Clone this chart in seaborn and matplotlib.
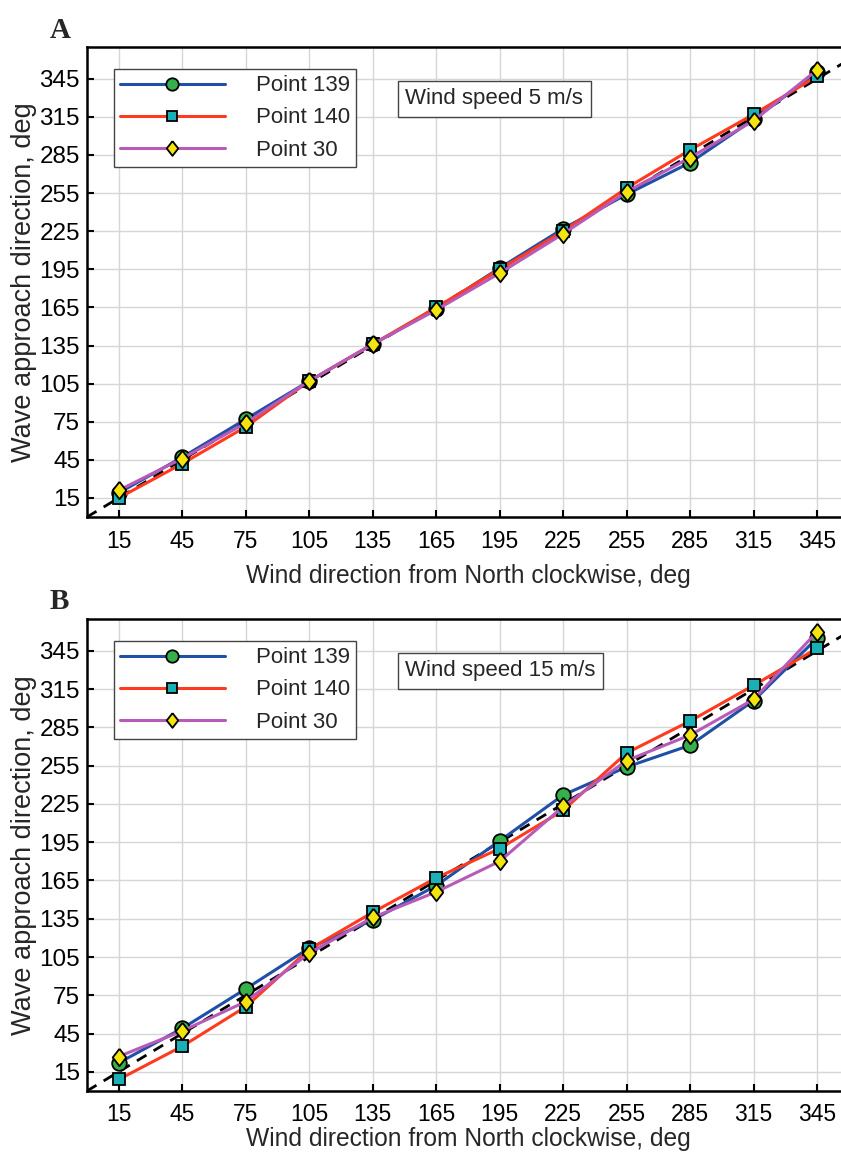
import matplotlib
matplotlib.use("Agg")
import matplotlib.pyplot as plt
import seaborn as sns
import pandas as pd

# wind direction (x) shared by both panels
wind_dir = [15, 45, 75, 105, 135, 165, 195, 225, 255, 285, 315, 345]

# panel A, wind speed 5 m/s
a_p139 = [19, 47, 77, 107, 136, 164, 196, 227, 254, 279, 313, 350]
a_p140 = [15, 42, 71, 107, 136, 165, 195, 225, 259, 289, 317, 347]
a_p30 = [21, 46, 74, 107, 136, 163, 192, 223, 256, 283, 312, 352]

# panel B, wind speed 15 m/s
b_p139 = [22, 49, 80, 112, 134, 161, 196, 232, 254, 271, 306, 355]
b_p140 = [9, 35, 66, 111, 140, 167, 190, 220, 265, 290, 318, 347]
b_p30 = [27, 47, 70, 108, 136, 156, 180, 223, 259, 279, 307, 360]

series_names = ["Point 139", "Point 140", "Point 30"]
tick_vals = list(range(15, 346, 30))

sns.set_theme(style="white")
plt.rcParams['font.family'] = ['Liberation Sans', 'DejaVu Sans']

# slightly tall diamond like the original
tall_diamond = [(0, 1), (0.78, 0), (0, -1), (-0.78, 0), (0, 1)]

styles = {
    "Point 139": dict(color="#1f4fa6", marker="o", markerfacecolor="#35b04a", markersize=10.5),
    "Point 140": dict(color="#ff3a1e", marker="s", markerfacecolor="#19b1b5", markersize=8.5),
    "Point 30": dict(color="#b85ab8", marker=tall_diamond, markerfacecolor="#f2e40c", markersize=12.5),
}

fig = plt.figure(figsize=(8.41, 11.52), dpi=100)
ax_a = fig.add_axes([0.1034, 0.5512, 0.906, 0.408])
ax_b = fig.add_axes([0.1034, 0.0530, 0.906, 0.4097])


def draw_panel(ax, ys, speed_text, letter, xlab_pad):
    ax.plot([0, 370], [0, 370], color="black", ls=(0, (4, 3)), lw=2, zorder=2)
    for name, y in zip(series_names, ys):
        df = pd.DataFrame({"x": wind_dir, "y": y})
        st = styles[name]
        sns.lineplot(data=df, x="x", y="y", ax=ax, color=st["color"], lw=2.2,
                     marker=st["marker"], markersize=st["markersize"],
                     markerfacecolor=st["markerfacecolor"], markeredgecolor="black",
                     markeredgewidth=1.3, label=name, zorder=3)
    ax.set_xlim(0, 360)
    ax.set_ylim(0, 370)
    ax.set_xticks(tick_vals)
    ax.set_yticks(tick_vals)
    ax.grid(True, color="#d6d6d6", lw=1)
    ax.tick_params(direction="in", length=5, width=1.5, colors="black",
                   left=True, bottom=True)
    ax.tick_params(axis="x", labelsize=16.5, pad=9)
    ax.tick_params(axis="y", labelsize=17.5, pad=5)
    for sp in ax.spines.values():
        sp.set_color("black")
        sp.set_linewidth(1.8)
    ax.set_xlabel("Wind direction from North clockwise, deg", fontsize=17.7, labelpad=xlab_pad)
    ax.set_ylabel("Wave approach direction, deg", fontsize=19.5, labelpad=2)
    leg = ax.legend(loc="upper left", bbox_to_anchor=(0.0354, 0.953), fontsize=16,
                    handlelength=4.7, handletextpad=1.4, labelspacing=0.5,
                    borderpad=0.28, borderaxespad=0, fancybox=False, framealpha=1,
                    markerscale=0.85)
    leg.get_frame().set_edgecolor("#444444")
    leg.get_frame().set_linewidth(1)
    ax.text(0.418, 0.89, speed_text, transform=ax.transAxes, fontsize=16, va="center",
            ha="left", bbox=dict(boxstyle="square,pad=0.33", fc="white", ec="#444444", lw=1))
    ax.text(-0.049, 1.036, letter, transform=ax.transAxes, fontsize=21, fontweight="bold",
            family=["Liberation Serif", "DejaVu Serif"], va="center", ha="left")


draw_panel(ax_a, [a_p139, a_p140, a_p30], "Wind speed 5 m/s", "A", 8)
draw_panel(ax_b, [b_p139, b_p140, b_p30], "Wind speed 15 m/s", "B", 0.5)

fig.savefig("out.png", dpi=100)
